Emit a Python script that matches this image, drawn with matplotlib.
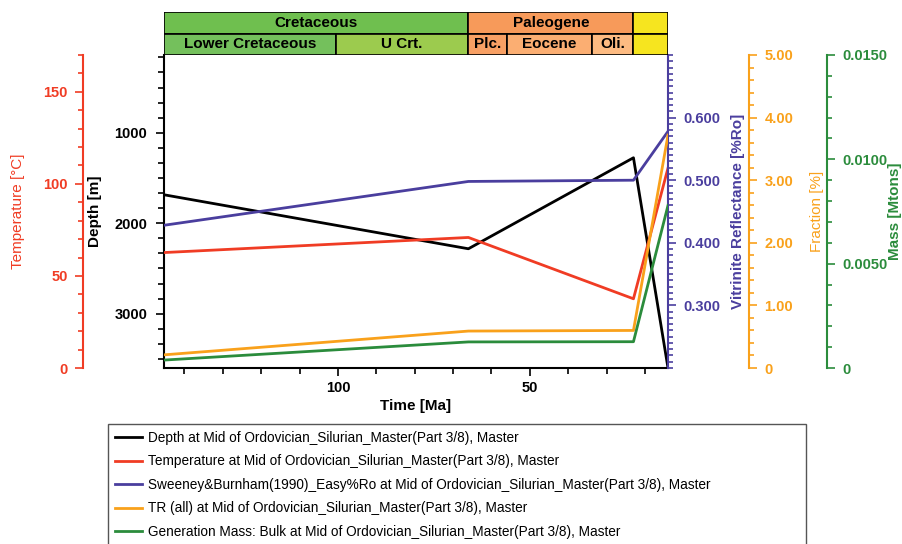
import matplotlib.pyplot as plt
from matplotlib.patches import Rectangle
from matplotlib.ticker import MultipleLocator, FixedLocator, FuncFormatter

# time axis (Ma), breakpoints of the burial history
time = [145.3, 66, 23, 14]
depth = [1685, 2282, 1276, 3600]
temperature = [62.7, 70.9, 37.6, 108.6]
vitrinite = [0.428, 0.498, 0.500, 0.578]
tr_fraction = [0.21, 0.59, 0.60, 3.72]
gen_mass = [0.00038, 0.00125, 0.00126, 0.00779]

labels = [
    "Depth at Mid of Ordovician_Silurian_Master(Part 3/8), Master",
    "Temperature at Mid of Ordovician_Silurian_Master(Part 3/8), Master",
    "Sweeney&Burnham(1990)_Easy%Ro at Mid of Ordovician_Silurian_Master(Part 3/8), Master",
    "TR (all) at Mid of Ordovician_Silurian_Master(Part 3/8), Master",
    "Generation Mass: Bulk at Mid of Ordovician_Silurian_Master(Part 3/8), Master",
]

# stratigraphy header
period_names = ["Cretaceous", "Paleogene", ""]
period_bounds = [145.3, 66, 23, 14]
period_colors = ["#6fbf4f", "#f79a5a", "#f6e51f"]
epoch_names = ["Lower Cretaceous", "U Crt.", "Plc.", "Eocene", "Oli.", ""]
epoch_bounds = [145.3, 100.5, 66, 56, 33.9, 23, 14]
epoch_colors = ["#74c05c", "#9ccb4e", "#f8a064", "#fbae72", "#fdbb82", "#f6e51f"]

c_black = "#000000"
c_red = "#f03c24"
c_purple = "#4a3e9e"
c_orange = "#f9a11b"
c_green = "#2b8c3c"

plt.rcParams['font.family'] = ['Liberation Sans', 'DejaVu Sans']
fs = 10.5
lfs = 11

fig = plt.figure(figsize=(9.03, 5.44), dpi=100)
W, H = 903, 544
x0, x1, y0, y1 = 164, 668, 55, 368
ax = fig.add_axes([x0 / W, 1 - y1 / H, (x1 - x0) / W, (y1 - y0) / H])

ax_t = ax.twinx()
ax_r = ax.twinx()
ax_f = ax.twinx()
ax_m = ax.twinx()

l1, = ax.plot(time, depth, color=c_black, lw=2, label=labels[0])
l2, = ax_t.plot(time, temperature, color=c_red, lw=2, label=labels[1])
l3, = ax_r.plot(time, vitrinite, color=c_purple, lw=2, label=labels[2])
l4, = ax_f.plot(time, tr_fraction, color=c_orange, lw=2, label=labels[3])
l5, = ax_m.plot(time, gen_mass, color=c_green, lw=2, label=labels[4])

ax.set_xlim(145.3, 14)
ax.set_ylim(3600, 140)
ax.xaxis.set_major_locator(FixedLocator([100, 50]))
ax.xaxis.set_minor_locator(MultipleLocator(10))
ax.yaxis.set_major_locator(FixedLocator([1000, 2000, 3000]))
ax.yaxis.set_minor_locator(MultipleLocator(1000 / 6))
ax.tick_params(axis='both', which='major', direction='out', length=6, width=1.2, labelsize=fs, pad=6)
ax.tick_params(axis='x', which='major', pad=3)
ax.tick_params(axis='both', which='minor', direction='out', length=4, width=1.2)
for t in ax.get_xticklabels() + ax.get_yticklabels():
    t.set_fontweight('bold')
ax.spines['top'].set_visible(False)
ax.spines['right'].set_visible(False)
ax.spines['left'].set_linewidth(1.5)
ax.spines['bottom'].set_linewidth(1.5)
ax.set_xlabel("Time [Ma]", fontsize=lfs, fontweight='bold', labelpad=3)
ax.set_ylabel("Depth [m]", fontsize=lfs, fontweight='bold')
ax.yaxis.set_label_coords((102 - x0) / (x1 - x0), 0.5)


def setup(a, pos, color, ylim, major, minor, fmt, label, side, weight):
    for s in a.spines.values():
        s.set_visible(False)
    a.spines[side].set_visible(True)
    a.spines[side].set_position(('axes', pos))
    a.spines[side].set_color(color)
    a.spines[side].set_linewidth(1.5)
    a.yaxis.set_ticks_position(side)
    a.yaxis.set_label_position(side)
    a.set_ylim(*ylim)
    a.yaxis.set_major_locator(FixedLocator(major))
    a.yaxis.set_minor_locator(MultipleLocator(minor))
    a.yaxis.set_major_formatter(FuncFormatter(fmt))
    a.tick_params(axis='y', which='major', colors=color, length=6, width=1.2, labelsize=fs, pad=5)
    a.tick_params(axis='y', which='minor', colors=color, length=3.5, width=1.2)
    for t in a.get_yticklabels():
        t.set_fontweight('bold')
    a.set_ylabel(label, color=color, fontsize=lfs, fontweight=weight)


setup(ax_t, (83 - x0) / (x1 - x0), c_red, (0, 170), [0, 50, 100, 150], 10,
      lambda v, p: f"{v:.0f}", "Temperature [°C]", 'left', 'normal')
ax_t.yaxis.set_label_coords((25 - x0) / (x1 - x0), 0.5)

setup(ax_r, 1.0, c_purple, (0.2, 0.7), [0.3, 0.4, 0.5, 0.6], 0.01,
      lambda v, p: f"{v:.3f}", "Vitrinite Reflectance [%Ro]", 'right', 'bold')
ax_r.yaxis.set_label_coords((731 - x0) / (x1 - x0), 0.5)

setup(ax_f, (749 - x0) / (x1 - x0), c_orange, (0, 5), [0, 1, 2, 3, 4, 5], 0.2,
      lambda v, p: "0" if v == 0 else f"{v:.2f}", "Fraction [%]", 'right', 'normal')
ax_f.yaxis.set_label_coords((810 - x0) / (x1 - x0), 0.5)

setup(ax_m, (827 - x0) / (x1 - x0), c_green, (0, 0.015), [0, 0.005, 0.01, 0.015], 0.001,
      lambda v, p: "0" if v == 0 else f"{v:.4f}", "Mass [Mtons]", 'right', 'bold')
ax_m.yaxis.set_label_coords((888 - x0) / (x1 - x0), 0.5)

# stratigraphic header
hx = fig.add_axes([x0 / W, 1 - y0 / H, (x1 - x0) / W, 43 / H])
hx.set_xlim(145.3, 14)
hx.set_ylim(0, 2)
hx.axis('off')
for i, name in enumerate(period_names):
    a, b = period_bounds[i], period_bounds[i + 1]
    hx.add_patch(Rectangle((b, 1), a - b, 1, facecolor=period_colors[i], edgecolor='black', lw=1.2))
    hx.text((a + b) / 2, 1.5, name, ha='center', va='center', fontsize=11, fontweight='bold')
for i, name in enumerate(epoch_names):
    a, b = epoch_bounds[i], epoch_bounds[i + 1]
    hx.add_patch(Rectangle((b, 0), a - b, 1, facecolor=epoch_colors[i], edgecolor='black', lw=1.2))
    hx.text((a + b) / 2, 0.5, name, ha='center', va='center', fontsize=11, fontweight='bold')

leg = fig.legend(handles=[l1, l2, l3, l4, l5], loc='upper left', mode='expand',
                 bbox_to_anchor=(108 / W, 0, (806 - 108) / W, 1 - 424 / H),
                 borderaxespad=0, fancybox=False, framealpha=1, edgecolor='#555555',
                 prop={'family': 'Liberation Sans', 'size': 9.8}, handlelength=2.0,
                 labelspacing=0.7, handletextpad=0.45, borderpad=0.5)

fig.savefig("out.png", dpi=100)
